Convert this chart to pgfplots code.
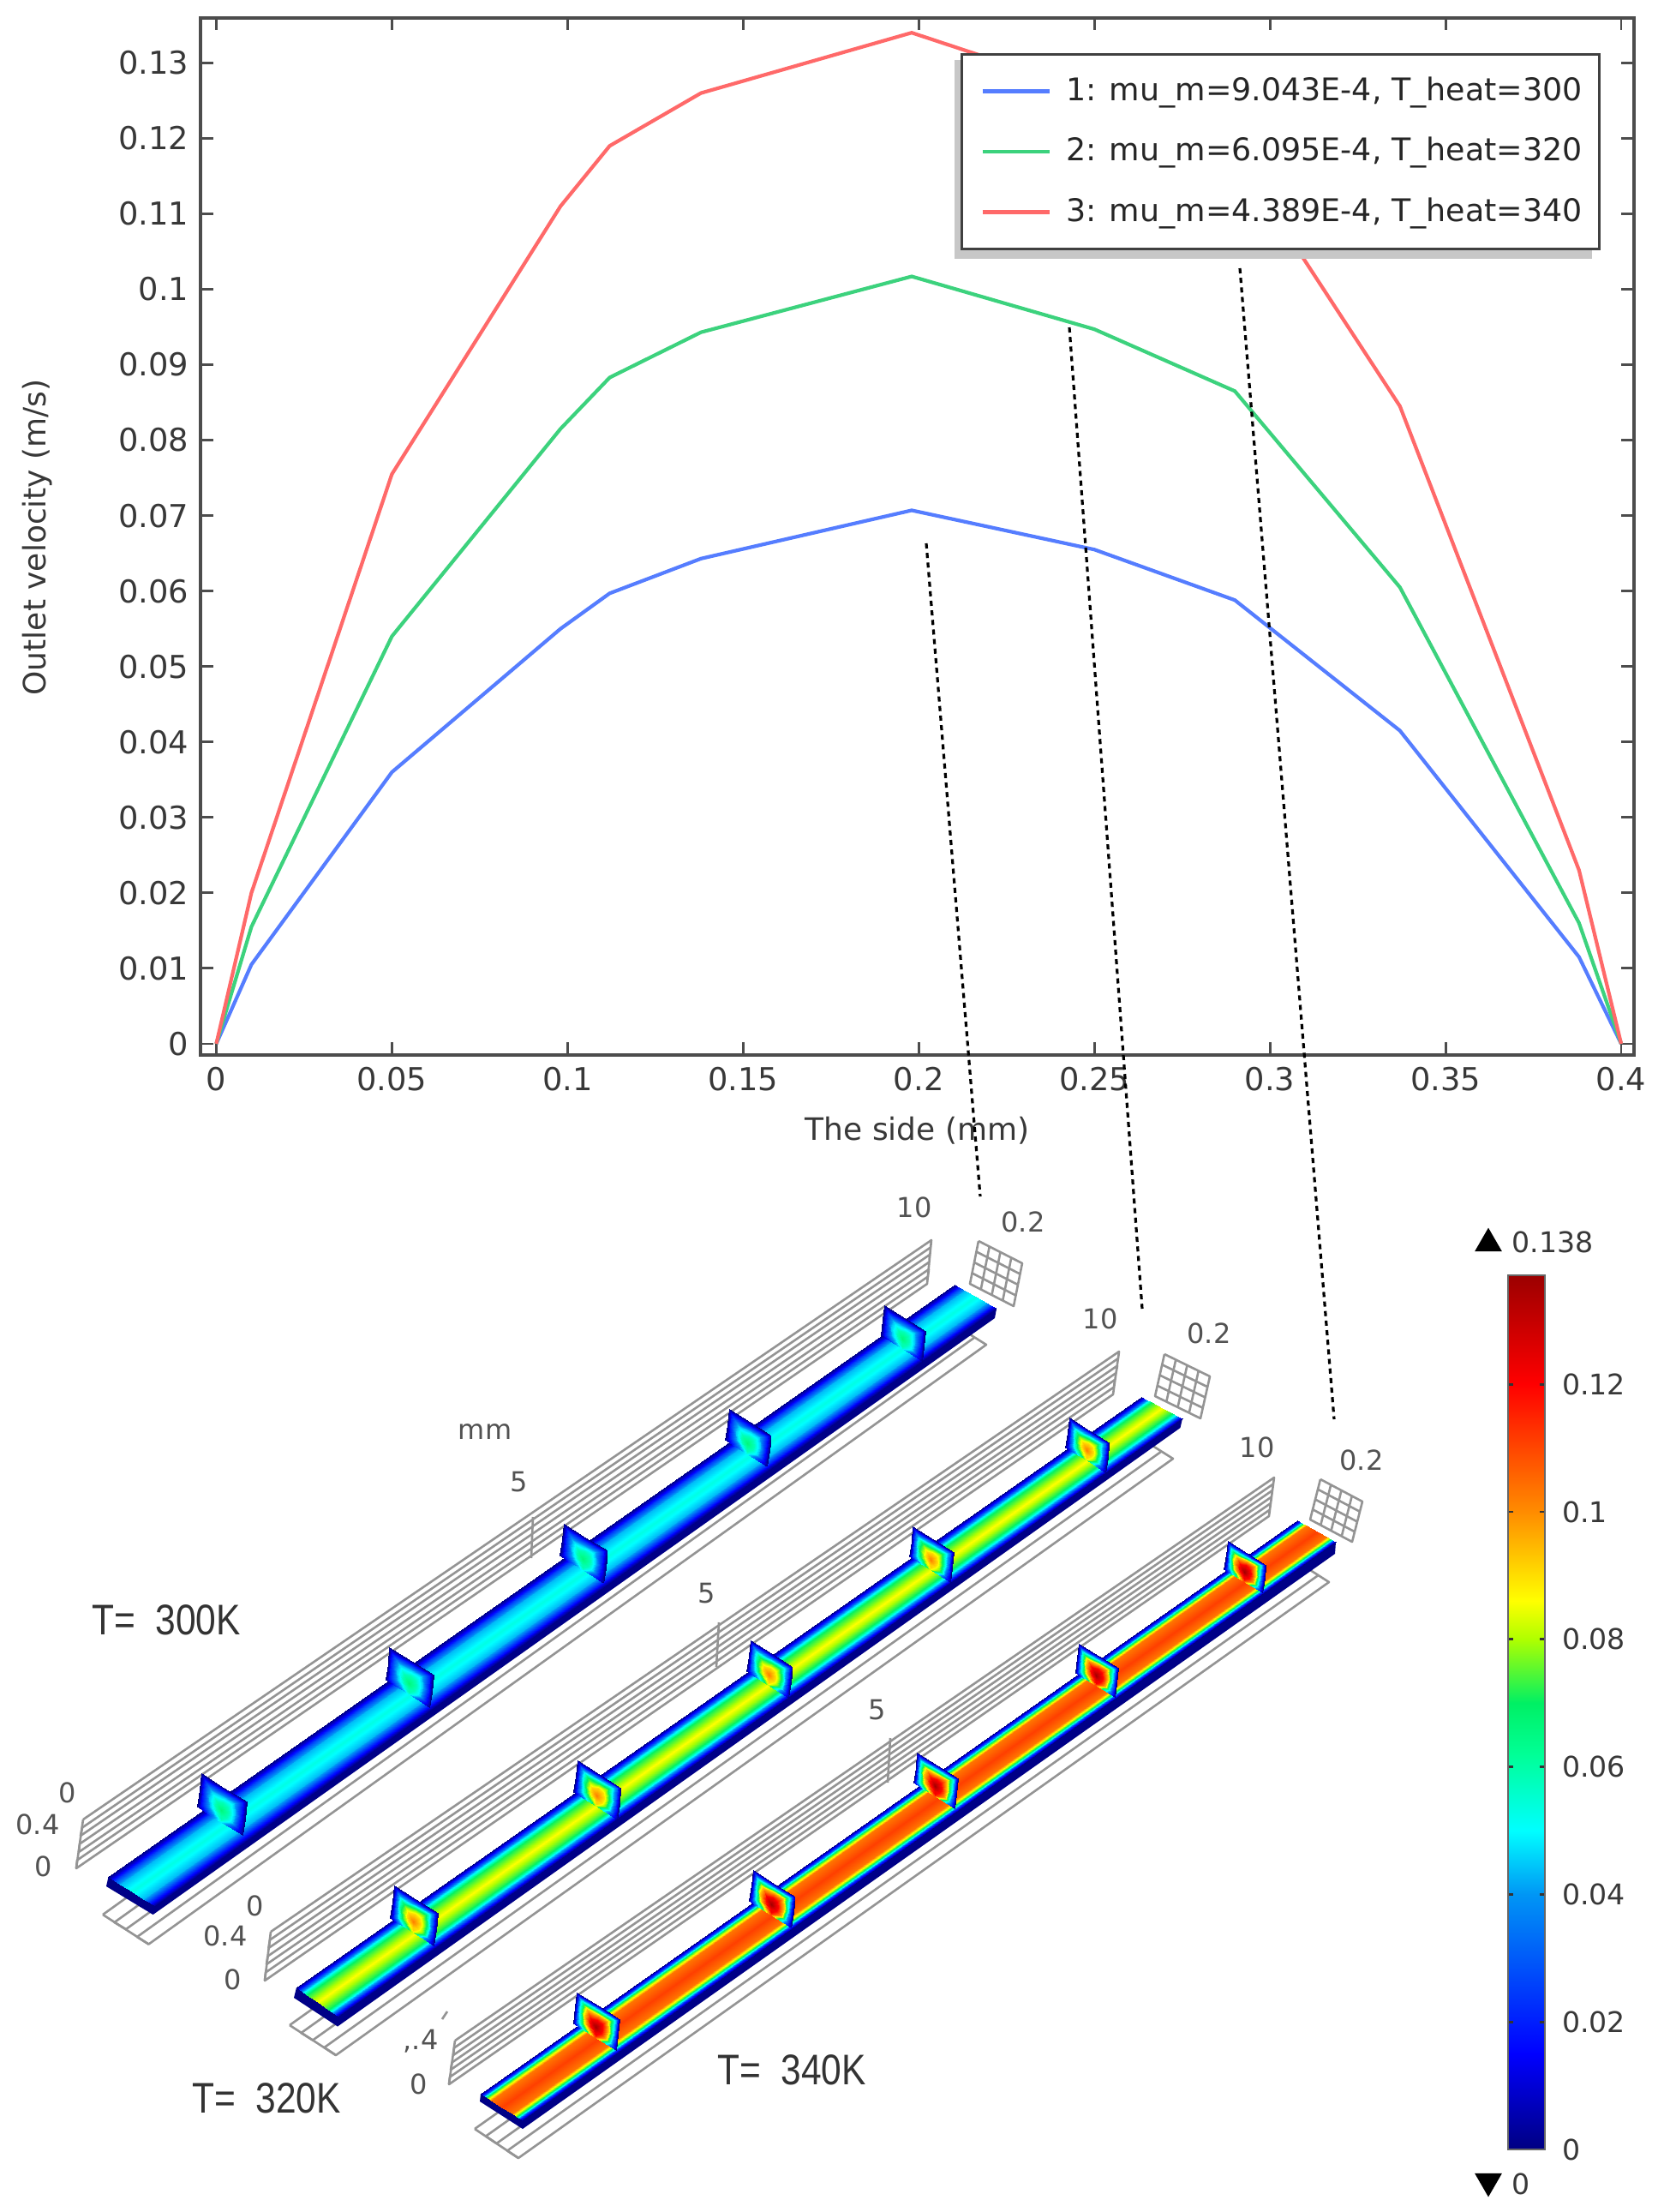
\documentclass[border=0pt]{standalone}
\usepackage{fontspec}
\setmainfont{DejaVu Sans}
\newfontfamily\bigfont{Liberation Sans}
\usepackage{pgfplots}
\usepackage{pgfplotstable}
\usepgfplotslibrary{patchplots}
\pgfplotsset{compat=1.18}

% colours read off the colour bar, positions are velocity*1000
\pgfplotsset{colormap={comsol}{
  rgb255(0pt)=(0,0,130); rgb255(15pt)=(0,0,255); rgb255(40pt)=(0,150,245);
  rgb255(50pt)=(0,255,255); rgb255(62pt)=(0,255,150); rgb255(70pt)=(0,240,100);
  rgb255(80pt)=(175,255,0); rgb255(86pt)=(255,255,0); rgb255(100pt)=(255,140,0);
  rgb255(120pt)=(255,0,0); rgb255(138pt)=(150,0,0)}}

\definecolor{lblue}{RGB}{85,125,255}
\definecolor{lgreen}{RGB}{60,210,125}
\definecolor{lred}{RGB}{255,105,105}
\definecolor{navy}{RGB}{0,0,135}

% across the channel: t is position over the width, f and g are fractions of the peak
\pgfplotstableread{
s t f g
0 0 0 0
0 .06 .2 .22
0 .14 .5 .62
0 .25 .82 .93
0 .5 1 1
0 .75 .82 .93
0 .86 .5 .62
0 .94 .2 .22
0 1 0 0
1 0 0 0
1 .06 .2 .22
1 .14 .5 .62
1 .25 .82 .93
1 .5 1 1
1 .75 .82 .93
1 .86 .5 .62
1 .94 .2 .22
1 1 0 0
}\chanverts
\begin{filecontents*}[overwrite]{chancells.dat}
0 1 9
1 10 9
1 2 10
2 11 10
2 3 11
3 12 11
3 4 12
4 13 12
4 5 13
5 14 13
5 6 14
6 15 14
6 7 15
7 16 15
7 8 16
8 17 16
\end{filecontents*}

% section through the channel, offsets from the hot spot in pixels
\pgfplotstableread{
dx dy f
-23 -43 0
3.5 -26.5 0
30 -10 0
28 10 0
25 29 0
-1.5 12.5 .8
-28 -4 0
-25 -24 0
-19 -35 .3
3 -22 .3
25 -9 .3
23 9 .3
20 22 .25
0 12 .85
-23 -5 .25
-21 -22 .3
-11 -22 .68
3 -15 .68
15 -8 .68
16 5 .68
13 15 .68
0 10 .9
-13 -4 .68
-14 -14 .68
-6 -11 .88
2 -9 .88
8 -3 .88
9 4 .88
6 9 .88
0 7 .9
-5 1 .88
-7 -5 .88
0 0 1
}\finverts
\begin{filecontents*}[overwrite]{fincells.dat}
0 1 8
1 9 8
1 2 9
2 10 9
2 3 10
3 11 10
3 4 11
4 12 11
4 5 12
5 13 12
5 6 13
6 14 13
6 7 14
7 15 14
7 0 15
0 8 15
8 9 16
9 17 16
9 10 17
10 18 17
10 11 18
11 19 18
11 12 19
12 20 19
12 13 20
13 21 20
13 14 21
14 22 21
14 15 22
15 23 22
15 8 23
8 16 23
16 17 24
17 25 24
17 18 25
18 26 25
18 19 26
19 27 26
19 20 27
20 28 27
20 21 28
21 29 28
21 22 29
22 30 29
22 23 30
23 31 30
23 16 31
16 24 31
24 25 32
25 26 32
26 27 32
27 28 32
28 29 32
29 30 32
30 31 32
31 24 32
\end{filecontents*}

% small mesh at the far end of each channel
\pgfplotstableread{
u v
0 0
1 0
1 .25
0 .25
0 .5
1 .5
1 .75
0 .75
0 1
1 1
1 0
.75 0
.75 1
.5 1
.5 0
.25 0
.25 1
0 1
0 0
}\meshverts

% corners: back left, front left, back right, front right, then the peak
\newcommand\channel[9]{
  \addplot[patch, patch type=triangle, shader=interp, patch table=chancells.dat, point meta=explicit]
    table[x expr={(1-\thisrow{s})*((1-\thisrow{t})*#1+\thisrow{t}*#3)+\thisrow{s}*((1-\thisrow{t})*#5+\thisrow{t}*#7)},
          y expr={(1-\thisrow{s})*((1-\thisrow{t})*#2+\thisrow{t}*#4)+\thisrow{s}*((1-\thisrow{t})*#6+\thisrow{t}*#8)},
          meta expr={\thisrow{\profcol}*#9}]
    {\chanverts};
}
% hot spot x, y, scale, peak
\newcommand\fin[4]{
  \addplot[patch, patch type=triangle, shader=interp, patch table=fincells.dat, point meta=explicit]
    table[x expr={#1+#3*\thisrow{dx}}, y expr={#2+#3*\thisrow{dy}},
          meta expr={\thisrow{f}*#4}] {\finverts};
}
\newcommand\farmesh[6]{
  \addplot[gridline] table[x expr={#1+\thisrow{u}*#3+\thisrow{v}*#5},
                           y expr={#2+\thisrow{u}*#4+\thisrow{v}*#6}] {\meshverts};
}
\newcommand\lab[3]{\node[text=black!68, font=\fontsize{8}{9}\selectfont, inner sep=0pt] at (axis cs:#1,#2) {#3};}
\newcommand\tlab[3]{\node[text=black!80, inner sep=0pt] at (axis cs:#1,#2) {\scalebox{.85}[1]{\fontsize{12.5}{14}\selectfont\bigfont #3}};}

\pgfplotsset{gridline/.style={black!42, line width=.65pt, line join=round}}

\begin{document}
\begin{tikzpicture}
\useasboundingbox (0,0) rectangle (485.25pt,645.25pt);

\begin{axis}[
  at={(58.6pt,337.6pt)}, anchor=south west,
  width=418.1pt, height=302.5pt, scale only axis,
  xmin=-0.0044, xmax=0.4036, ymin=-0.00144, ymax=0.136,
  xtick={0,0.05,0.1,0.15,0.2,0.25,0.3,0.35,0.4},
  ytick={0,0.01,0.02,0.03,0.04,0.05,0.06,0.07,0.08,0.09,0.1,0.11,0.12,0.13},
  tick align=inside, major tick length=3.6pt,
  tick style={black!70, line width=.7pt},
  axis line style={black!70, line width=1pt},
  /pgf/number format/assume math mode=true,
  /pgf/number format/fixed, /pgf/number format/precision=2,
  scaled ticks=false,
  tick label style={font=\fontsize{9.2}{11}\selectfont, text=black!78},
  label style={font=\fontsize{9}{11}\selectfont, text=black!78},
  xlabel={The side (mm)}, ylabel={Outlet velocity (m/s)},
  xlabel style={at={(axis description cs:0.5,-0.0735)}, anchor=center},
  ylabel style={at={(axis description cs:-0.114,0.499)}, anchor=center},
  legend cell align=left,
  legend image code/.code={\path (-2.6pt,0pt) (21.8pt,0pt); \draw[#1, line width=1.2pt] (0pt,0pt) -- (19.6pt,0pt);},
  legend style={at={(axis description cs:0.977,0.966)}, anchor=north east,
    font=\fontsize{9.1}{11}\selectfont, text=black!85, draw=black!75, line width=.8pt,
    row sep=5.2pt, inner xsep=3pt, inner ysep=4.6pt},
]
\addplot[lblue, line width=1.05pt] coordinates {
  (0,0) (0.01,0.0105) (0.05,0.036) (0.098,0.055) (0.112,0.0597) (0.138,0.0643)
  (0.198,0.0707) (0.25,0.0655) (0.29,0.0588) (0.337,0.0415) (0.388,0.0115) (0.4,0)};
\addplot[lgreen, line width=1.05pt] coordinates {
  (0,0) (0.01,0.0155) (0.05,0.054) (0.098,0.0815) (0.112,0.0883) (0.138,0.0943)
  (0.198,0.1017) (0.25,0.0947) (0.29,0.0865) (0.337,0.0605) (0.388,0.016) (0.4,0)};
\addplot[lred, line width=1.05pt] coordinates {
  (0,0) (0.01,0.02) (0.05,0.0755) (0.098,0.111) (0.112,0.119) (0.138,0.126)
  (0.198,0.134) (0.25,0.126) (0.29,0.118) (0.337,0.0845) (0.388,0.023) (0.4,0)};
% shadow that sits under the legend box
\addplot[fill=black!22, draw=none, forget plot] coordinates {
  (.2102,.1304) (.3916,.1304) (.3916,.1040) (.2102,.1040)} -- cycle;
\legend{{1: mu\_m=9.043E-4, T\_heat=300},
        {2: mu\_m=6.095E-4, T\_heat=320},
        {3: mu\_m=4.389E-4, T\_heat=340}}
\end{axis}

% lower half, drawn in the picture's own pixel coordinates
\begin{axis}[
  at={(0pt,0pt)}, anchor=south west,
  width=485.25pt, height=645.25pt, scale only axis,
  xmin=0, xmax=1941, ymin=0, ymax=2581, y dir=reverse,
  hide axis, clip=false, colormap name=comsol,
  point meta min=0, point meta max=0.138,
]
% grey frames behind channel 1
\addplot[gridline] coordinates {
  (97,2123) (1087,1447) (1086,1455.5) (96,2132.5) (94,2142) (1085,1464) (1084.5,1472.5)
  (93,2151.5) (92,2161) (1084,1481) (1083,1489.5) (90,2170.5) (89,2180) (1082,1498) (1087,1447)};
\addplot[gridline] coordinates {(97,2123) (89,2180)};
\addplot[gridline] coordinates {(622,1770) (620,1818)};
\addplot[gridline] coordinates {
  (120,2234) (1097,1535) (1110.5,1543.5) (133.5,2243) (147,2251) (1124,1552) (1137.5,1560.5)
  (160,2260) (173.5,2268.5) (1151,1569) (1097,1535)};
\addplot[gridline] coordinates {(120,2234) (173.5,2268.5)};
\farmesh{1142}{1448}{51}{26}{-10}{50}
% channel 2
\addplot[gridline] coordinates {
  (316,2254) (1306,1577) (1305,1585) (315,2263.5) (313.5,2273) (1304,1593.5) (1302.5,1602)
  (312.5,2282.5) (311,2292) (1301,1610) (1300,1618.5) (310,2301.5) (309,2311) (1299,1627) (1306,1577)};
\addplot[gridline] coordinates {(316,2254) (309,2311)};
\addplot[gridline] coordinates {(839,1893) (836,1945)};
\addplot[gridline] coordinates {
  (338,2363) (1315,1668) (1328.5,1676.5) (351.5,2372) (365,2380.5) (1342,1685) (1355.5,1693.5)
  (378.5,2389) (392,2398) (1369,1702) (1315,1668)};
\addplot[gridline] coordinates {(338,2363) (392,2398)};
\farmesh{1359}{1580}{53}{26}{-11}{49}
% channel 3
\addplot[gridline] coordinates {
  (531,2381) (1487,1724) (1486,1731.5) (530,2389.5) (529,2398) (1485,1739) (1484,1746.5)
  (527.5,2406.5) (526,2415) (1483,1754) (1482,1761.5) (525,2423.5) (524,2432) (1481,1769) (1487,1724)};
\addplot[gridline] coordinates {(531,2381) (524,2432)};
\addplot[gridline] coordinates {(1039,2028) (1036,2080)};
\addplot[gridline] coordinates {(516,2356) (522,2347)};
\addplot[gridline] coordinates {
  (554,2484) (1501,1814) (1513.5,1822) (567,2492.5) (579.5,2501) (1526,1830) (1538.5,1838)
  (592,2509.5) (605,2518) (1551,1846) (1501,1814)};
\addplot[gridline] coordinates {(554,2484) (605,2518)};
\farmesh{1541}{1726}{49}{26}{-12}{47}

% dark side walls
\addplot[fill=navy, draw=none] coordinates {
  (124,2201) (178.6,2234) (1161,1538) (1163,1527) (181,2224) (126.5,2190)} -- cycle;
\addplot[fill=navy, draw=none] coordinates {
  (343,2331) (394,2364.5) (1377.5,1666) (1380,1655) (395.4,2353) (346,2319)} -- cycle;
\addplot[fill=navy, draw=none] coordinates {
  (560,2452) (610,2484) (1558,1813) (1559,1799) (610,2474) (561,2443)} -- cycle;

% channel floors
\def\profcol{f}
\channel{126.5}{2190}{181}{2224}{1114}{1499}{1163}{1527}{0.053}
\channel{346}{2319}{395.4}{2353}{1332}{1630}{1380}{1655}{0.086}
\def\profcol{g}
\channel{561}{2443}{610}{2474}{1514}{1774}{1559}{1799}{0.111}

% sections along each channel
\fin{258}{2112}{1}{0.066}
\fin{477}{1964}{.98}{0.066}
\fin{680}{1819}{.96}{0.066}
\fin{872}{1684}{.93}{0.066}
\fin{1053}{1562}{.9}{0.066}
\fin{482}{2242}{.97}{0.102}
\fin{696}{2095}{.95}{0.102}
\fin{897}{1954}{.93}{0.102}
\fin{1086}{1820}{.9}{0.102}
\fin{1268}{1692}{.88}{0.102}
\fin{695}{2365}{.94}{0.136}
\fin{900}{2222}{.92}{0.136}
\fin{1091}{2084}{.9}{0.136}
\fin{1279}{1955}{.87}{0.136}
\fin{1452}{1834}{.84}{0.136}

% dotted leaders from the curves down to the channels
\addplot[black, line width=.8pt, dash pattern=on 1.5pt off 1.3pt] coordinates {(1081,634) (1144,1396)};
\addplot[black, line width=.8pt, dash pattern=on 1.5pt off 1.3pt] coordinates {(1248,382) (1333,1527)};
\addplot[black, line width=.8pt, dash pattern=on 1.5pt off 1.3pt] coordinates {(1447,313) (1557,1656)};

% over and under markers of the colour bar
\addplot[only marks, mark=triangle*, mark size=4.2pt, black] coordinates {(1737,1451)};
\addplot[only marks, mark=triangle*, mark size=4.2pt, black, mark options={rotate=180}] coordinates {(1737,2545)};

\lab{1067}{1409}{10} \lab{1194}{1426}{0.2} \lab{566}{1671}{mm} \lab{606}{1729}{5}
\lab{79}{2092}{0} \lab{44}{2129}{0.4} \lab{51}{2178}{0}
\lab{1284}{1539}{10} \lab{1411}{1556}{0.2} \lab{825}{1859}{5}
\lab{298}{2224}{0} \lab{263}{2259}{0.4} \lab{272}{2310}{0}
\lab{1467}{1689}{10} \lab{1589}{1704}{0.2} \lab{1024}{1995}{5}
\lab{491}{2382}{,.4} \lab{489}{2432}{0}
\node[text=black!78, font=\fontsize{8.3}{10}\selectfont, inner sep=0pt] at (axis cs:1812,1449) {0.138};
\node[text=black!78, font=\fontsize{8.3}{10}\selectfont, inner sep=0pt] at (axis cs:1775,2548) {0};
\tlab{194}{1890}{T=\ \ 300K}
\tlab{311}{2448}{T=\ \ 320K}
\tlab{924}{2415}{T=\ \ 340K}
\end{axis}

% colour bar
\begin{axis}[
  at={(440pt,18.25pt)}, anchor=south west,
  width=10.75pt, height=255pt, scale only axis,
  xmin=0, xmax=1, ymin=0, ymax=0.1371,
  xtick=\empty, ytick={0,0.02,0.04,0.06,0.08,0.1,0.12},
  yticklabel pos=right, tick align=inside, major tick length=1.6pt,
  tick style={black!80, line width=.7pt},
  axis line style={black!60, line width=.6pt},
  /pgf/number format/assume math mode=true,
  /pgf/number format/fixed, /pgf/number format/precision=2,
  scaled ticks=false,
  yticklabel style={font=\fontsize{8.3}{10}\selectfont, text=black!78, xshift=1.5pt},
  colormap name=comsol, point meta min=0, point meta max=0.138,
  axis on top,
]
\addplot[patch, patch type=triangle, shader=interp, point meta=explicit]
  coordinates {
  (0,0) [0] (1,0) [0] (1,0.138) [0.138]
  (0,0) [0] (1,0.138) [0.138] (0,0.138) [0.138]};
\end{axis}
\end{tikzpicture}
\end{document}
